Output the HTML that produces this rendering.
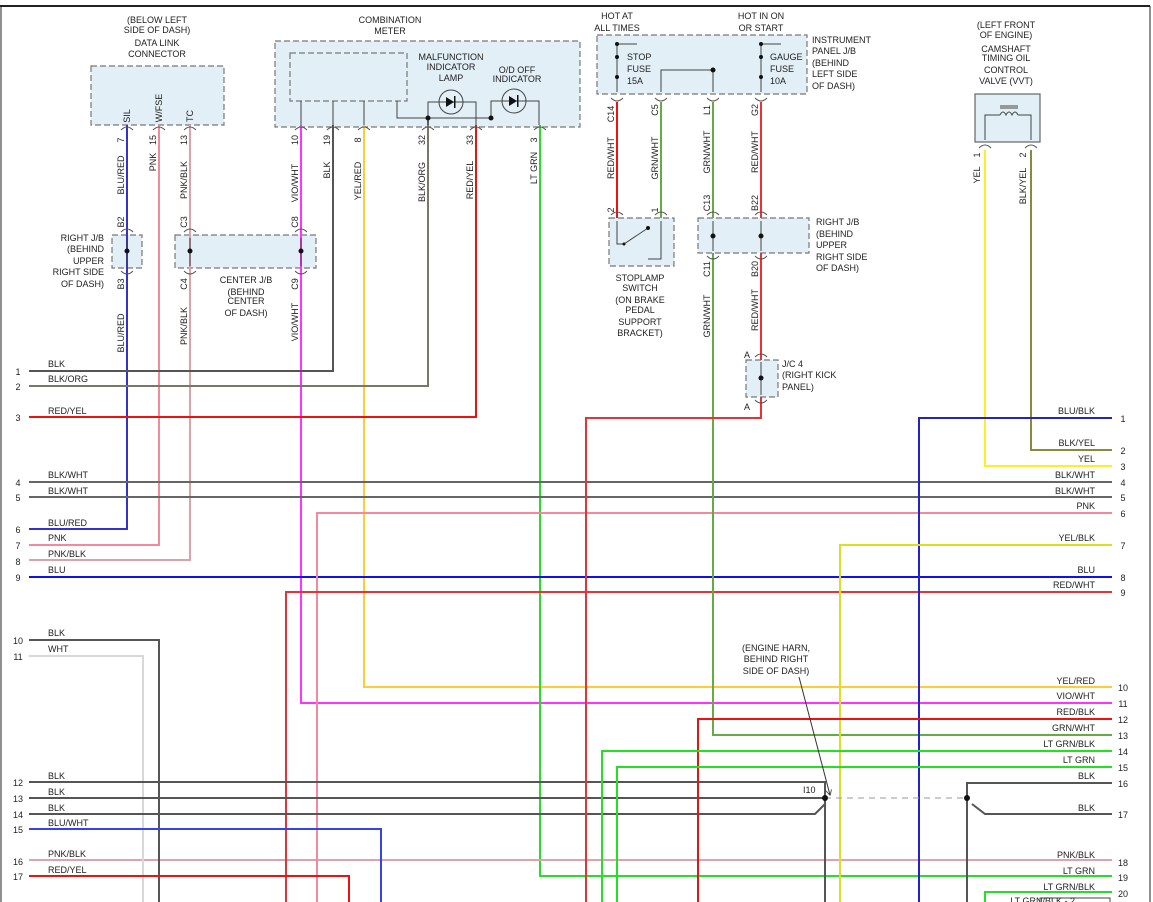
<!DOCTYPE html>
<html><head><meta charset="utf-8"><style>
html,body{margin:0;padding:0;background:#fff;}
svg{display:block;font-family:"Liberation Sans",sans-serif;font-size:9px;fill:#222;}
</style></head><body>
<svg width="1153" height="902" viewBox="0 0 1153 902" xmlns="http://www.w3.org/2000/svg">
<defs>
<marker id="ar" viewBox="0 0 10 10" refX="9" refY="5" markerWidth="6" markerHeight="6" orient="auto"><path d="M0,0 L10,5 L0,10" fill="none" stroke="#444" stroke-width="1.5"/></marker>
</defs>
<!-- frame -->
<line x1="0" y1="6" x2="1150" y2="6" stroke="#222" stroke-width="2"/>
<line x1="1" y1="6" x2="1" y2="902" stroke="#222" stroke-width="1"/>
<line x1="1150" y1="6" x2="1150" y2="902" stroke="#222" stroke-width="1"/>

<!-- boxes -->
<g fill="#e2eff6" stroke="#777" stroke-width="1.2" stroke-dasharray="6,3">
<rect x="91" y="66" width="133" height="59"/>
<rect x="275" y="41" width="305" height="86"/>
<rect x="290" y="53" width="117" height="48"/>
<rect x="112" y="235" width="30" height="33"/>
<rect x="175" y="235" width="141" height="33"/>
<rect x="597" y="35" width="210" height="59"/>
<rect x="609" y="218" width="65" height="48"/>
<rect x="698" y="218" width="111" height="35"/>
<rect x="746" y="360" width="32" height="37"/>
</g>
<rect x="975" y="94" width="65" height="48" fill="#e2eff6" stroke="#666" stroke-width="1.2"/>

<g fill="none" stroke-width="2">
<!-- left top verticals -->
<polyline points="127,125 127,529 29,529" stroke="#3333cc"/>
<polyline points="159,125 159,545 29,545" stroke="#f28a9c"/>
<polyline points="190,125 190,560 29,560" stroke="#e0a0a8"/>
<polyline points="301,125 301,703 1112,703" stroke="#ff33ff"/>
<polyline points="333,125 333,371 29,371" stroke="#555"/>
<polyline points="364,125 364,687 1112,687" stroke="#ffcc33"/>
<polyline points="428,118 428,386 29,386" stroke="#7a7766"/>
<polyline points="476,125 476,417 29,417" stroke="#f01010"/>
<polyline points="540,125 540,876 1112,876" stroke="#22e022"/>
<!-- full rows -->
<line x1="29" y1="482" x2="1112" y2="482" stroke="#666"/>
<line x1="29" y1="497" x2="1112" y2="497" stroke="#666"/>
<line x1="29" y1="577" x2="1112" y2="577" stroke="#1010ee"/>
<line x1="29" y1="860" x2="1112" y2="860" stroke="#e0a0ac"/>
<polyline points="317,902 317,513 1112,513" stroke="#f28a9c"/>
<polyline points="286,902 286,592 1112,592" stroke="#f03030"/>
<polyline points="29,640 159,640 159,902" stroke="#555"/>
<polyline points="29,656 143,656 143,902" stroke="#d8d8d8"/>
<polyline points="29,782 825,782 825,798" stroke="#555"/>
<line x1="29" y1="798" x2="825" y2="798" stroke="#555"/>
<polyline points="29,814 815,814 825,804" stroke="#555"/>
<polyline points="29,829 381,829 381,902" stroke="#3344ee"/>
<polyline points="29,876 349,876 349,902" stroke="#f01010"/>
<line x1="825" y1="798" x2="825" y2="902" stroke="#555"/>
<!-- right side -->
<polyline points="617,102 617,218" stroke="#f01010"/>
<polyline points="661,102 661,218" stroke="#66aa44"/>
<polyline points="713,102 713,218" stroke="#66aa44"/>
<polyline points="761,102 761,218" stroke="#f03030"/>
<polyline points="713,253 713,735 1112,735" stroke="#66aa44"/>
<polyline points="761,253 761,360" stroke="#f03030"/>
<polyline points="761,397 761,418 586,418 586,902" stroke="#f03030"/>
<polyline points="985,150 985,466 1112,466" stroke="#ffee22"/>
<polyline points="1031,150 1031,450 1112,450" stroke="#8a8a3a"/>
<polyline points="919,902 919,418 1112,418" stroke="#2222cc"/>
<polyline points="840,902 840,545 1112,545" stroke="#dddd22"/>
<polyline points="698,902 698,719 1112,719" stroke="#f01010"/>
<polyline points="602,902 602,751 1112,751" stroke="#22e022"/>
<polyline points="617,902 617,767 1112,767" stroke="#22e022"/>
<polyline points="967,902 967,783 1112,783" stroke="#555"/>
<polyline points="972,804 985,814 1112,814" stroke="#555"/>
<polyline points="985,902 985,892 1112,892" stroke="#22e022"/>
</g>
<line x1="825" y1="798" x2="967" y2="798" stroke="#999" stroke-dasharray="6,5"/>
<circle cx="825" cy="798" r="3" fill="#111"/>
<circle cx="967" cy="798" r="3" fill="#111"/>
<line x1="799" y1="677" x2="830" y2="795" stroke="#333" marker-end="url(#ar)"/>
<rect x="1040" y="898" width="70" height="6" fill="#fff" stroke="#444"/>

<!-- meter internals -->
<g fill="none" stroke="#444" stroke-width="1">
<polyline points="397,101 397,118 491,118"/>
<polyline points="428,118 428,102 476,102 476,125"/>
<polyline points="491,118 491,101 539,101 539,125"/>
<circle cx="451" cy="102" r="12"/>
<circle cx="514" cy="101" r="12"/>
<line x1="301" y1="101" x2="301" y2="125"/><line x1="333" y1="101" x2="333" y2="125"/><line x1="364" y1="101" x2="364" y2="125"/>
<line x1="428" y1="118" x2="428" y2="125"/>
<!-- fuses -->
<polyline points="617,44 617,92"/><line x1="617" y1="44" x2="637" y2="44"/>
<polyline points="761,44 761,92"/><line x1="761" y1="44" x2="781" y2="44"/>
<polyline points="661,92 661,70 713,70 713,92"/>
<!-- J/B verticals -->
<line x1="127" y1="238" x2="127" y2="266"/><line x1="190" y1="238" x2="190" y2="266"/><line x1="301" y1="238" x2="301" y2="266"/>
<line x1="713" y1="221" x2="713" y2="251"/><line x1="761" y1="221" x2="761" y2="251"/><line x1="761" y1="362" x2="761" y2="395"/>
<!-- stoplamp -->
<polyline points="617,221 617,244 624,244 648,228"/><polyline points="661,221 661,259 648,259"/>
<!-- VVT -->
<polyline points="985,140 985,115 1000,115"/><polyline points="1031,140 1031,115 1018,115"/>
<path d="M1000,115 q3,-6 6,0 q3,-6 6,0 q3,-6 6,0"/>
<line x1="1000" y1="106" x2="1018" y2="106"/><line x1="1000" y1="108" x2="1018" y2="108"/>
</g>
<g fill="#111">
<circle cx="428" cy="118" r="2.5"/><circle cx="491" cy="118" r="2.5"/>
<circle cx="617" cy="44" r="2"/><circle cx="617" cy="57" r="2"/><circle cx="617" cy="77" r="2"/>
<circle cx="761" cy="44" r="2"/><circle cx="761" cy="57" r="2"/><circle cx="761" cy="77" r="2"/>
<circle cx="713" cy="70" r="2.5"/>
<circle cx="127" cy="251" r="2.5"/><circle cx="190" cy="251" r="2.5"/><circle cx="301" cy="251" r="2.5"/>
<circle cx="713" cy="236" r="2.5"/><circle cx="761" cy="236" r="2.5"/><circle cx="761" cy="378" r="2.5"/>
<circle cx="648" cy="228" r="2"/><circle cx="624" cy="244" r="1.5"/>
<path d="M446,97 l8,5 l-8,5z"/><rect x="454" y="96" width="1.5" height="12"/>
<path d="M509,96 l8,5 l-8,5z"/><rect x="517" y="95" width="1.5" height="12"/>
</g>
<!-- pin arcs -->
<g fill="none" stroke="#555" stroke-width="1">
<path d="M121,130 q6,-6 12,0 M153,130 q6,-6 12,0 M184,130 q6,-6 12,0 M295,130 q6,-6 12,0 M327,130 q6,-6 12,0 M358,130 q6,-6 12,0 M422,130 q6,-6 12,0 M470,130 q6,-6 12,0 M534,130 q6,-6 12,0"/>
<path d="M121,232 q6,-6 12,0 M184,232 q6,-6 12,0 M295,232 q6,-6 12,0 M121,271 q6,6 12,0 M184,271 q6,6 12,0 M295,271 q6,6 12,0"/>
<path d="M611,98 q6,6 12,0 M655,98 q6,6 12,0 M707,98 q6,6 12,0 M755,98 q6,6 12,0"/>
<path d="M611,215 q6,-6 12,0 M655,215 q6,-6 12,0 M707,215 q6,-6 12,0 M755,215 q6,-6 12,0 M707,256 q6,6 12,0 M755,256 q6,6 12,0 M755,357 q6,-6 12,0 M755,400 q6,6 12,0"/>
<path d="M979,148 q6,-6 12,0 M1025,148 q6,-6 12,0"/>
</g>

<!-- horizontal text -->
<g text-anchor="middle">
<text x="157" y="23">(BELOW LEFT</text><text x="157" y="33">SIDE OF DASH)</text>
<text x="157" y="46">DATA LINK</text><text x="157" y="57">CONNECTOR</text>
<text x="390" y="23">COMBINATION</text><text x="390" y="34">METER</text>
<text x="451" y="60">MALFUNCTION</text><text x="451" y="70">INDICATOR</text><text x="451" y="81">LAMP</text>
<text x="517" y="73">O/D OFF</text><text x="517" y="82">INDICATOR</text>
<text x="617" y="19">HOT AT</text><text x="617" y="31">ALL TIMES</text>
<text x="761" y="19">HOT IN ON</text><text x="761" y="31">OR START</text>
<text x="1006" y="28">(LEFT FRONT</text><text x="1006" y="38">OF ENGINE)</text>
<text x="1006" y="52">CAMSHAFT</text><text x="1006" y="61">TIMING OIL</text><text x="1006" y="73">CONTROL</text><text x="1006" y="84">VALVE (VVT)</text>
<text x="640" y="281">STOPLAMP</text><text x="640" y="291">SWITCH</text>
<text x="640" y="303">(ON BRAKE</text><text x="640" y="313">PEDAL</text><text x="640" y="325">SUPPORT</text><text x="640" y="336">BRACKET)</text>
<text x="246" y="283">CENTER J/B</text><text x="246" y="295">(BEHIND</text><text x="246" y="304">CENTER</text><text x="246" y="316">OF DASH)</text>
<text x="776" y="651">(ENGINE HARN,</text><text x="776" y="662">BEHIND RIGHT</text><text x="776" y="674">SIDE OF DASH)</text>
</g>
<g text-anchor="end">
<text x="104" y="241">RIGHT J/B</text><text x="104" y="252">(BEHIND</text><text x="104" y="264">UPPER</text><text x="104" y="275">RIGHT SIDE</text><text x="104" y="287">OF DASH)</text>
</g>
<g>
<text x="627" y="60">STOP</text><text x="627" y="72">FUSE</text><text x="627" y="84">15A</text>
<text x="770" y="60">GAUGE</text><text x="770" y="72">FUSE</text><text x="770" y="84">10A</text>
<text x="812" y="43">INSTRUMENT</text><text x="812" y="54">PANEL J/B</text><text x="812" y="66">(BEHIND</text><text x="812" y="77">LEFT SIDE</text><text x="812" y="89">OF DASH)</text>
<text x="816" y="225">RIGHT J/B</text><text x="816" y="237">(BEHIND</text><text x="816" y="248">UPPER</text><text x="816" y="260">RIGHT SIDE</text><text x="816" y="271">OF DASH)</text>
<text x="782" y="367">J/C 4</text><text x="782" y="378">(RIGHT KICK</text><text x="782" y="390">PANEL)</text>
<text x="744" y="358">A</text><text x="744" y="410">A</text>
<text x="803" y="793">I10</text>
</g>
<!-- left row labels -->
<g>
<text x="48" y="367">BLK</text><text x="48" y="382">BLK/ORG</text><text x="48" y="414">RED/YEL</text>
<text x="48" y="478">BLK/WHT</text><text x="48" y="494">BLK/WHT</text><text x="48" y="526">BLU/RED</text>
<text x="48" y="541">PNK</text><text x="48" y="557">PNK/BLK</text><text x="48" y="573">BLU</text>
<text x="48" y="636">BLK</text><text x="48" y="652">WHT</text>
<text x="48" y="779">BLK</text><text x="48" y="795">BLK</text><text x="48" y="811">BLK</text><text x="48" y="826">BLU/WHT</text>
<text x="48" y="857">PNK/BLK</text><text x="48" y="873">RED/YEL</text>
</g>
<g text-anchor="middle">
<text x="18" y="375">1</text><text x="18" y="390">2</text><text x="18" y="421">3</text><text x="18" y="486">4</text><text x="18" y="501">5</text>
<text x="18" y="533">6</text><text x="18" y="549">7</text><text x="18" y="565">8</text><text x="18" y="581">9</text>
<text x="18" y="644">10</text><text x="18" y="660">11</text><text x="18" y="786">12</text><text x="18" y="802">13</text>
<text x="18" y="818">14</text><text x="18" y="833">15</text><text x="18" y="865">16</text><text x="18" y="880">17</text>
</g>
<!-- right row labels -->
<g text-anchor="end">
<text x="1095" y="414">BLU/BLK</text><text x="1095" y="446">BLK/YEL</text><text x="1095" y="462">YEL</text>
<text x="1095" y="478">BLK/WHT</text><text x="1095" y="494">BLK/WHT</text><text x="1095" y="509">PNK</text>
<text x="1095" y="541">YEL/BLK</text><text x="1095" y="573">BLU</text><text x="1095" y="588">RED/WHT</text>
<text x="1095" y="684">YEL/RED</text><text x="1095" y="699">VIO/WHT</text><text x="1095" y="715">RED/BLK</text>
<text x="1095" y="731">GRN/WHT</text><text x="1095" y="747">LT GRN/BLK</text><text x="1095" y="763">LT GRN</text>
<text x="1095" y="779">BLK</text><text x="1095" y="811">BLK</text><text x="1095" y="858">PNK/BLK</text>
<text x="1095" y="874">LT GRN</text><text x="1095" y="890">LT GRN/BLK</text><text x="1075" y="904">LT GRN/BLK - 2</text>
</g>
<g text-anchor="middle">
<text x="1123" y="422">1</text><text x="1123" y="454">2</text><text x="1123" y="470">3</text><text x="1123" y="486">4</text>
<text x="1123" y="501">5</text><text x="1123" y="517">6</text><text x="1123" y="549">7</text><text x="1123" y="581">8</text>
<text x="1123" y="596">9</text><text x="1123" y="691">10</text><text x="1123" y="707">11</text><text x="1123" y="723">12</text>
<text x="1123" y="739">13</text><text x="1123" y="755">14</text><text x="1123" y="771">15</text><text x="1123" y="787">16</text>
<text x="1123" y="818">17</text><text x="1123" y="866">18</text><text x="1123" y="881">19</text><text x="1123" y="897">20</text>
</g>
<!-- rotated labels -->
<g text-anchor="middle">
<text transform="translate(130,116) rotate(-90)">SIL</text>
<text transform="translate(162,108) rotate(-90)">W/FSE</text>
<text transform="translate(193,116) rotate(-90)">TC</text>
<text transform="translate(124,140) rotate(-90)">7</text><text transform="translate(156,140) rotate(-90)">15</text><text transform="translate(187,140) rotate(-90)">13</text>
<text transform="translate(124,175) rotate(-90)">BLU/RED</text><text transform="translate(156,162) rotate(-90)">PNK</text><text transform="translate(187,180) rotate(-90)">PNK/BLK</text>
<text transform="translate(124,222) rotate(-90)">B2</text><text transform="translate(187,222) rotate(-90)">C3</text><text transform="translate(298,222) rotate(-90)">C8</text>
<text transform="translate(124,284) rotate(-90)">B3</text><text transform="translate(187,284) rotate(-90)">C4</text><text transform="translate(298,284) rotate(-90)">C9</text>
<text transform="translate(124,333) rotate(-90)">BLU/RED</text><text transform="translate(187,326) rotate(-90)">PNK/BLK</text><text transform="translate(298,322) rotate(-90)">VIO/WHT</text>
<text transform="translate(298,140) rotate(-90)">10</text><text transform="translate(330,140) rotate(-90)">19</text><text transform="translate(361,140) rotate(-90)">8</text>
<text transform="translate(425,140) rotate(-90)">32</text><text transform="translate(473,140) rotate(-90)">33</text><text transform="translate(537,140) rotate(-90)">3</text>
<text transform="translate(298,183) rotate(-90)">VIO/WHT</text><text transform="translate(330,170) rotate(-90)">BLK</text><text transform="translate(361,181) rotate(-90)">YEL/RED</text>
<text transform="translate(425,182) rotate(-90)">BLK/ORG</text><text transform="translate(473,180) rotate(-90)">RED/YEL</text><text transform="translate(537,168) rotate(-90)">LT GRN</text>
<text transform="translate(614,114) rotate(-90)">C14</text><text transform="translate(658,110) rotate(-90)">C5</text><text transform="translate(710,110) rotate(-90)">L1</text><text transform="translate(758,110) rotate(-90)">G2</text>
<text transform="translate(614,158) rotate(-90)">RED/WHT</text><text transform="translate(658,158) rotate(-90)">GRN/WHT</text><text transform="translate(710,152) rotate(-90)">GRN/WHT</text><text transform="translate(758,152) rotate(-90)">RED/WHT</text>
<text transform="translate(614,210) rotate(-90)">2</text><text transform="translate(658,210) rotate(-90)">1</text>
<text transform="translate(710,203) rotate(-90)">C13</text><text transform="translate(758,203) rotate(-90)">B22</text>
<text transform="translate(710,269) rotate(-90)">C11</text><text transform="translate(758,269) rotate(-90)">B20</text>
<text transform="translate(710,316) rotate(-90)">GRN/WHT</text><text transform="translate(758,310) rotate(-90)">RED/WHT</text>
<text transform="translate(980,155) rotate(-90)">1</text><text transform="translate(1026,155) rotate(-90)">2</text>
<text transform="translate(980,175) rotate(-90)">YEL</text><text transform="translate(1026,186) rotate(-90)">BLK/YEL</text>
</g>
</svg>
</body></html>
